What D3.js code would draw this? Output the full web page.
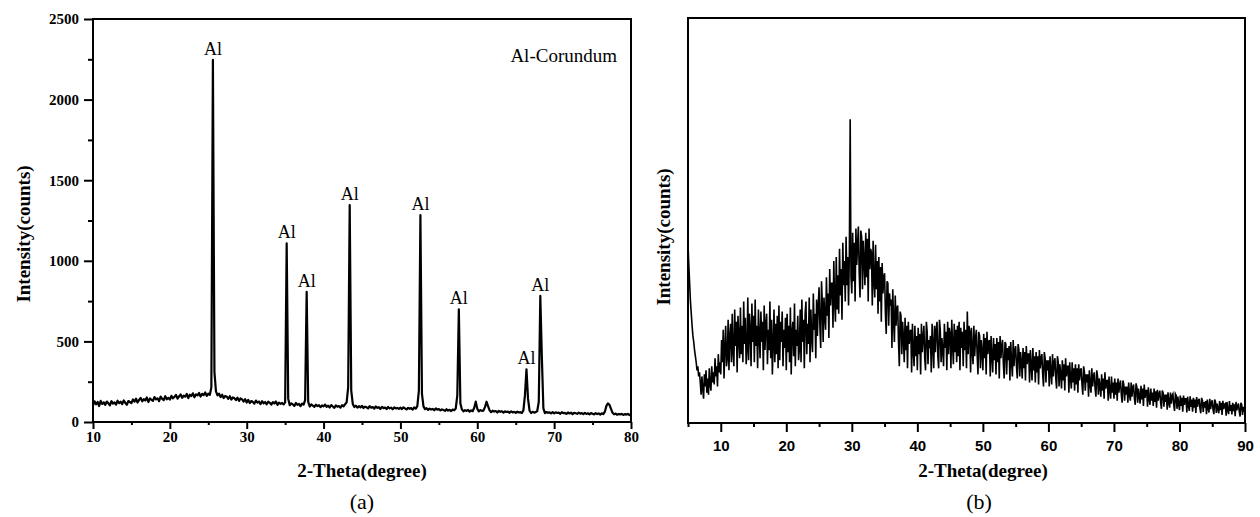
<!DOCTYPE html>
<html lang="en">
<head>
<meta charset="UTF-8">
<title>XRD patterns</title>
<script src="https://d3js.org/d3.v7.min.js"></script>
<style>
  body { margin: 0; background: #fff; }
  .tick line { stroke: #000; stroke-width: 2; }
</style>
</head>
<body>
<div id="chart"></div>
<script>
// (a) Al-Corundum, 2-theta 10..80 step 0.2
var aStart = 10, aStep = 0.2;
var aCounts = [
  104,128,110,124,99,131,112,122,106,127,116,103,129,114,121,108,132,117,126,111,134,119,107,130,124,
  117,140,126,145,121,137,149,128,142,133,152,124,146,138,131,155,140,147,129,158,143,136,160,141,150,
  139,162,147,156,168,145,159,171,150,164,157,174,148,169,161,178,153,172,165,180,158,175,167,183,162,
  176,168,215,2246,310,190,165,176,155,169,149,162,157,144,160,139,153,147,136,151,131,146,140,127,142,
  121,137,118,130,124,114,133,120,127,111,129,116,124,110,126,119,108,123,115,127,106,120,113,118,109,
  122,1108,145,104,116,109,100,118,106,112,98,114,108,135,808,125,96,109,101,94,107,99,104,92,103,
  97,108,94,101,90,105,96,88,103,95,99,89,104,97,110,122,215,1346,195,112,93,101,89,98,91,
  100,87,95,91,84,98,89,93,83,96,88,92,81,94,86,90,80,93,85,89,79,91,84,87,82,
  89,80,91,84,78,88,82,86,77,90,83,98,195,1284,175,97,80,86,75,83,78,81,73,84,77,
  80,72,78,74,69,79,71,76,68,77,73,84,165,699,115,78,66,73,69,75,64,72,67,88,126,
  82,66,74,69,71,92,126,98,72,61,70,65,68,59,69,63,67,58,66,62,64,57,66,60,63,
  57,64,59,61,56,72,165,327,145,70,56,63,58,61,68,125,782,405,84,55,62,57,60,53,61,
  54,60,56,58,51,61,55,57,50,59,53,58,49,57,54,51,58,52,55,49,57,50,54,48,55,
  51,47,55,49,53,46,54,49,64,100,115,106,82,57,48,52,45,50,47,51,44,49,46,50,43,
  48
];
var aPeaks = [25.6, 35.2, 37.8, 43.4, 52.6, 57.6, 66.4, 68.2];
var aPeakName = "Al";
var aXTicks = [10, 20, 30, 40, 50, 60, 70, 80];
var aXMinor = [15, 25, 35, 45, 55, 65, 75];
var aYTicks = [0, 500, 1000, 1500, 2000, 2500];
var aYMinor = [250, 750, 1250, 1750, 2250];

// (b) 2-theta 5..90 step 0.125, arbitrary counts (one line per degree)
var bStart = 5, bStep = 0.125;
var bCounts = [
  440,390,345,300,270,240,215,200,
  180,165,150,130,140,115,125,100,
  70,115,85,60,120,90,130,75,
  110,70,135,95,80,140,100,125,
  95,160,115,140,90,170,125,150,
  120,205,150,230,110,185,240,140,
  160,255,130,215,245,150,270,175,
  140,280,190,250,125,265,210,160,
  285,170,240,150,300,195,260,145,
  180,310,155,270,230,140,295,200,
  265,150,305,190,240,135,280,215,
  160,275,200,250,130,290,180,245,
  270,145,230,180,300,160,255,120,
  195,280,150,245,170,265,135,290,
  155,250,200,275,140,230,185,260,
  130,270,175,240,150,285,120,225,
  250,165,295,140,230,190,265,155,
  185,280,150,305,200,255,135,270,
  300,170,245,195,310,150,280,210,
  175,320,230,270,160,305,215,290,
  335,240,185,350,295,200,310,260,
  230,360,265,320,210,380,290,345,
  345,235,400,300,250,410,280,365,
  270,430,315,380,255,445,340,400,
  300,460,340,410,290,420,750,360,
  320,470,350,445,300,480,390,440,
  485,370,310,475,460,330,450,400,
  340,470,360,455,300,480,380,430,
  420,290,450,350,310,440,330,400,
  270,410,300,385,250,395,320,360,
  370,270,220,350,345,240,320,290,
  305,185,330,250,200,315,240,285,
  290,200,140,275,265,170,250,210,
  150,260,180,240,135,250,195,225,
  230,125,245,180,140,240,165,215,
  130,235,170,220,120,245,175,210,
  240,160,130,250,225,145,205,185,
  215,125,245,190,135,240,175,230,
  250,165,135,255,230,150,210,180,
  140,245,185,225,130,250,170,235,
  220,135,255,190,145,245,175,230,
  150,240,165,250,130,235,185,225,
  140,250,180,230,135,275,170,240,
  225,125,235,180,145,240,165,210,
  230,170,120,225,215,135,205,175,
  130,220,160,210,120,225,170,200,
  205,115,215,165,125,210,155,195,
  120,210,150,200,110,215,160,190,
  205,145,110,200,195,120,185,155,
  190,105,200,150,115,205,140,180,
  190,140,110,195,180,115,175,150,
  110,185,135,175,105,190,145,170,
  170,100,180,140,105,185,130,165,
  100,175,125,165,95,180,135,160,
  170,120,90,175,160,100,155,130,
  155,90,165,125,95,170,115,150,
  160,110,85,165,150,90,145,120,
  85,155,105,145,80,160,115,140,
  140,75,150,110,85,150,100,135,
  80,145,95,135,75,145,105,130,
  135,95,70,140,125,80,120,100,
  120,65,130,95,75,135,90,115,
  125,85,65,130,115,70,110,90,
  65,120,80,110,60,125,85,105,
  105,55,115,80,60,115,75,100,
  60,110,70,100,55,110,75,95,
  105,70,50,105,95,55,90,70,
  90,50,100,70,55,100,65,88,
  95,60,45,98,88,50,85,65,
  48,92,58,85,42,95,62,80,
  80,40,88,60,45,85,55,75,
  42,85,52,78,38,82,55,72,
  80,50,35,80,75,40,70,52,
  70,33,76,50,38,75,48,68,
  72,45,30,72,68,35,65,48,
  32,68,42,62,28,68,45,60,
  60,26,65,42,30,66,40,58,
  28,62,38,58,25,64,40,55,
  60,36,24,62,56,27,52,38,
  54,22,58,36,26,60,34,50,
  56,33,22,58,52,25,48,35,
  24,54,32,50,20,55,34,46,
  48,18,52,32,22,54,30,44,
  21,50,29,46,17,52,31,42,
  48,28,16,50,45,20,40,30,
  28
];
var bXTicks = [10, 20, 30, 40, 50, 60, 70, 80, 90];
var bXMinor = [5, 15, 25, 35, 45, 55, 65, 75, 85];

var serif = "'Liberation Serif', 'Times New Roman', serif";
var sans = "'Liberation Sans', Arial, sans-serif";

var svg = d3.select("#chart").append("svg")
    .attr("width", 1260)
    .attr("height", 517);

// ---------- panel (a) ----------
var pa = {left: 93, right: 631, top: 19, bottom: 422};

var xa = d3.scaleLinear().domain([10, 80]).range([pa.left, pa.right]);
var ya = d3.scaleLinear().domain([0, 2500]).range([pa.bottom, pa.top]);

var aData = aCounts.map(function(v, i) { return {x: aStart + i * aStep, y: v}; });

svg.append("path")
    .datum(aData)
    .attr("fill", "none")
    .attr("stroke", "#000")
    .attr("stroke-width", 2.2)
    .attr("stroke-linejoin", "round")
    .attr("d", d3.line().x(function(d) { return xa(d.x); }).y(function(d) { return ya(d.y); }));

svg.append("rect")
    .attr("x", pa.left).attr("y", pa.top)
    .attr("width", pa.right - pa.left).attr("height", pa.bottom - pa.top)
    .attr("fill", "none").attr("stroke", "#000").attr("stroke-width", 2);

var axA = svg.append("g").attr("transform", "translate(0," + pa.bottom + ")")
    .call(d3.axisBottom(xa).tickValues(aXTicks).tickSize(7).tickPadding(2).tickFormat(d3.format("d")));
svg.append("g").attr("transform", "translate(0," + pa.bottom + ")")
    .call(d3.axisBottom(xa).tickValues(aXMinor).tickSize(3).tickFormat(""));
var ayA = svg.append("g").attr("transform", "translate(" + pa.left + ",0)")
    .call(d3.axisLeft(ya).tickValues(aYTicks).tickSize(9).tickPadding(5).tickFormat(d3.format("d")));
svg.append("g").attr("transform", "translate(" + pa.left + ",0)")
    .call(d3.axisLeft(ya).tickValues(aYMinor).tickSize(5).tickFormat(""));

[axA, ayA].forEach(function(g) {
  g.attr("font-family", serif).attr("font-weight", "bold").attr("font-size", 15);
  g.selectAll("text").attr("fill", "#000");
});

// peak labels
svg.selectAll(".peaklabel")
  .data(aPeaks)
  .enter().append("text")
    .attr("class", "peaklabel")
    .attr("x", function(p) { return xa(p); })
    .attr("y", function(p) { return ya(aCounts[Math.round((p - aStart) / aStep)]) - 5; })
    .attr("text-anchor", "middle")
    .attr("font-family", serif).attr("font-size", 18)
    .text(aPeakName);

svg.append("text")
    .attr("x", 617).attr("y", 62)
    .attr("text-anchor", "end")
    .attr("font-family", serif).attr("font-size", 19)
    .text("Al-Corundum");

svg.append("text")
    .attr("x", 362).attr("y", 477)
    .attr("text-anchor", "middle")
    .attr("font-family", serif).attr("font-weight", "bold").attr("font-size", 19)
    .text("2-Theta(degree)");

svg.append("text")
    .attr("transform", "translate(30,234)rotate(-90)")
    .attr("text-anchor", "middle")
    .attr("font-family", serif).attr("font-weight", "bold").attr("font-size", 19)
    .text("Intensity(counts)");

svg.append("text")
    .attr("x", 362).attr("y", 509)
    .attr("text-anchor", "middle")
    .attr("font-family", serif).attr("font-size", 22)
    .text("(a)");

// ---------- panel (b) ----------
var pb = {left: 688, right: 1245, top: 18, bottom: 423};

var xb = d3.scaleLinear().domain([5, 90]).range([pb.left, pb.right]);
var yb = d3.scaleLinear().domain([0, 1000]).range([pb.bottom, pb.top]);

var bData = bCounts.map(function(v, i) { return {x: bStart + i * bStep, y: v}; });

svg.append("path")
    .datum(bData)
    .attr("fill", "none")
    .attr("stroke", "#000")
    .attr("stroke-width", 1.6)
    .attr("d", d3.line().x(function(d) { return xb(d.x); }).y(function(d) { return yb(d.y); }));

svg.append("rect")
    .attr("x", pb.left).attr("y", pb.top)
    .attr("width", pb.right - pb.left).attr("height", pb.bottom - pb.top)
    .attr("fill", "none").attr("stroke", "#000").attr("stroke-width", 2);

var axB = svg.append("g").attr("transform", "translate(0," + pb.bottom + ")")
    .call(d3.axisBottom(xb).tickValues(bXTicks).tickSize(9).tickPadding(8).tickFormat(d3.format("d")));
svg.append("g").attr("transform", "translate(0," + pb.bottom + ")")
    .call(d3.axisBottom(xb).tickValues(bXMinor).tickSize(4).tickFormat(""));

axB.attr("font-family", sans).attr("font-weight", "bold").attr("font-size", 15);
axB.selectAll("text").attr("fill", "#000");

svg.selectAll(".domain").remove();

svg.append("text")
    .attr("x", 983).attr("y", 477)
    .attr("text-anchor", "middle")
    .attr("font-family", serif).attr("font-weight", "bold").attr("font-size", 19)
    .text("2-Theta(degree)");

svg.append("text")
    .attr("transform", "translate(670,237)rotate(-90)")
    .attr("text-anchor", "middle")
    .attr("font-family", serif).attr("font-weight", "bold").attr("font-size", 19)
    .text("Intensity(counts)");

svg.append("text")
    .attr("x", 979).attr("y", 509)
    .attr("text-anchor", "middle")
    .attr("font-family", serif).attr("font-size", 22)
    .text("(b)");
</script>
</body>
</html>
